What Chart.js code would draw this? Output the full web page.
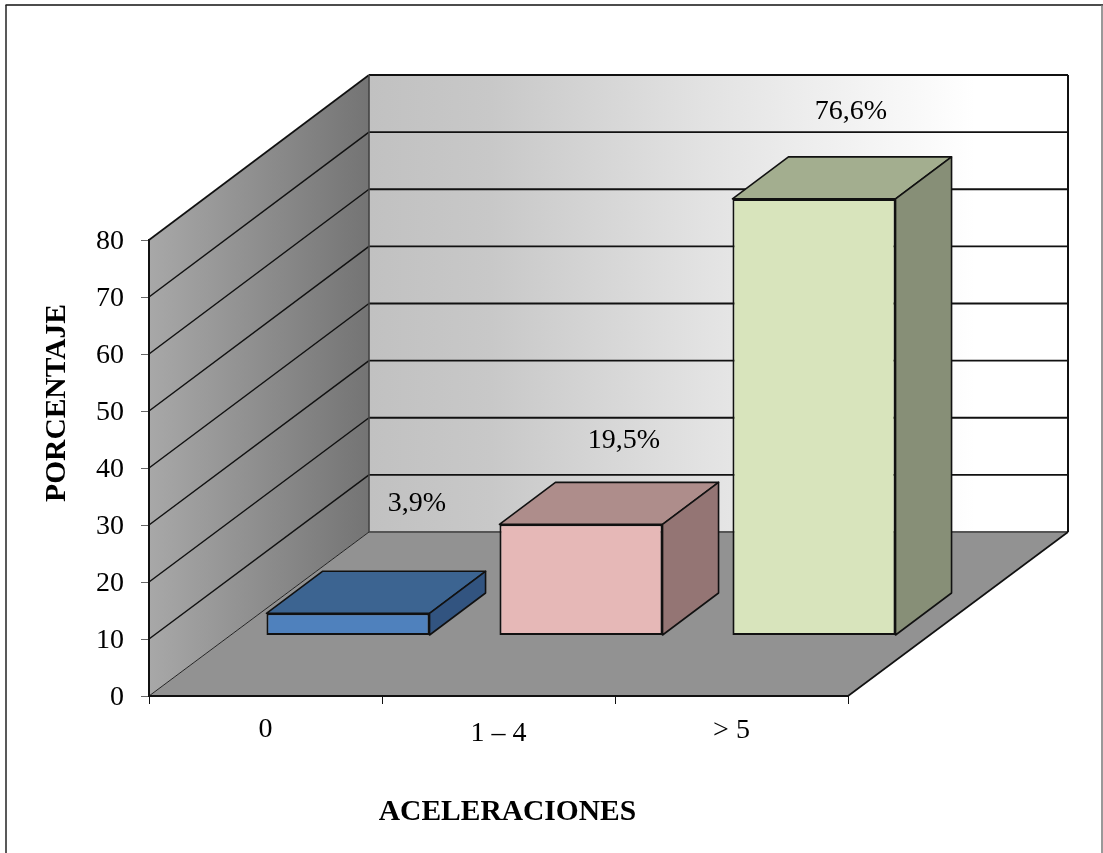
<!DOCTYPE html>
<html lang="es">
<head>
<meta charset="utf-8">
<title>Aceleraciones</title>
<style>
  html, body { margin: 0; padding: 0; background: #fff; }
  canvas { display: block; }
</style>
<script src="https://cdn.jsdelivr.net/npm/chart.js@4/dist/chart.umd.min.js"></script>
</head>
<body>
<canvas id="chart" width="1103" height="853"></canvas>
<script>
const categories = ['0', '1 – 4', '> 5'];
const percentages = [3.9, 19.5, 76.6];
const yTicks = [0, 10, 20, 30, 40, 50, 60, 70, 80];

const STYLE = {
  font: '"Liberation Serif", "Times New Roman", serif',
  front: ['#4F81BD', '#E6B8B7', '#D8E4BC'],
  top: ['#3C6491', '#AE8D8B', '#A3AE8F'],
  side: ['#325480', '#947574', '#878F77'],
  valueLabelOffset: [[69, -110], [43, -84], [37, -87]],
  categoryLabelDrop: [0, 4, 1],
  valueTickDrop: 2,
  wallDepth: { dx: 220, dy: -164, stretch: 1.0022 },
  barShift: { dx: 82.5, dy: -60.5 },
  barDepth: { dx: 56, dy: -42 }
};

function poly(ctx, pts, fill, stroke, width) {
  ctx.beginPath();
  pts.forEach((p, i) => (i ? ctx.lineTo(p[0], p[1]) : ctx.moveTo(p[0], p[1])));
  ctx.closePath();
  if (fill) { ctx.fillStyle = fill; ctx.fill(); }
  if (stroke) { ctx.strokeStyle = stroke; ctx.lineWidth = width; ctx.stroke(); }
}

function seg(ctx, x1, y1, x2, y2, color, width) {
  ctx.beginPath();
  ctx.moveTo(x1, y1);
  ctx.lineTo(x2, y2);
  ctx.strokeStyle = color;
  ctx.lineWidth = width;
  ctx.stroke();
}

// Page frame, back wall, side wall and floor of the 3D box, painted under the axes.
const boxPlugin = {
  id: 'box3d',

  // Fine vertical placement of the tick labels once the scales have laid them out.
  afterUpdate(chart) {
    chart.scales.x.getLabelItems().forEach((item, i) => {
      item.options.translation[1] += STYLE.categoryLabelDrop[i];
    });
    chart.scales.y.getLabelItems().forEach(item => {
      item.options.translation[1] += STYLE.valueTickDrop;
    });
  },

  beforeDraw(chart) {
    const { ctx, chartArea: a, scales: { y } } = chart;
    const { dx, dy, stretch } = STYLE.wallDepth;
    ctx.save();
    ctx.fillStyle = '#fff';
    ctx.fillRect(0, 0, chart.width, chart.height);

    seg(ctx, 5.5, 5, 1103, 5, '#111', 1.5);
    seg(ctx, 6, 5, 6, chart.height, '#222', 1.5);
    seg(ctx, 1102, 5, 1102, chart.height, '#777', 1.5);

    const y0 = y.getPixelForValue(0), yMax = y.getPixelForValue(80);
    const backY = py => y0 + dy - (y0 - py) * stretch;
    const backTop = backY(yMax), backBottom = y0 + dy;

    const wall = ctx.createLinearGradient(a.left + dx, 0, 975, 0);
    wall.addColorStop(0, '#C1C1C1');
    wall.addColorStop(0.2, '#C8C8C8');
    wall.addColorStop(0.55, '#E2E2E2');
    wall.addColorStop(1, '#FFFFFF');
    ctx.fillStyle = wall;
    ctx.fillRect(a.left + dx, backTop, a.right - a.left, backBottom - backTop);

    const side = ctx.createLinearGradient(a.left, 0, a.left + dx, 0);
    side.addColorStop(0, '#A8A8A8');
    side.addColorStop(1, '#747474');
    poly(ctx, [[a.left, y0], [a.left + dx, backBottom], [a.left + dx, backTop], [a.left, yMax]], side);

    poly(ctx, [[a.left, y0], [a.right, y0], [a.right + dx, backBottom], [a.left + dx, backBottom]], '#929292');

    yTicks.forEach(v => {
      if (v === 0) return;
      const py = y.getPixelForValue(v), by = backY(py);
      seg(ctx, a.left, py, a.left + dx, by, '#111', v === 80 ? 1.7 : 1.5);
      seg(ctx, a.left + dx, by, a.right + dx, by, '#111', v === 80 ? 2 : 1.8);
    });
    seg(ctx, a.left, y0, a.left + dx, backBottom, '#222', 1);
    seg(ctx, a.left + dx, backBottom, a.right + dx, backBottom, '#555', 2);
    seg(ctx, a.left + dx, backTop, a.left + dx, backBottom, '#444', 1.6);
    seg(ctx, a.right + dx, backTop, a.right + dx, backBottom, '#111', 2);
    seg(ctx, a.right, y0, a.right + dx, backBottom, '#111', 1.6);
    ctx.restore();
  },

  // The bars stand part way back on the floor, so their layer is shifted into depth.
  beforeDatasetsDraw(chart) {
    const { ctx } = chart;
    ctx.save();
    ctx.translate(STYLE.barShift.dx, STYLE.barShift.dy);
    const { dx, dy } = STYLE.barDepth;
    ctx.lineJoin = 'round';
    chart.getDatasetMeta(0).data.forEach((bar, i) => {
      const l = bar.x - bar.width / 2, r = bar.x + bar.width / 2;
      const t = bar.y, b = bar.base;
      poly(ctx, [[l, t], [r, t], [r + dx, t + dy], [l + dx, t + dy]], STYLE.top[i], '#111', 1.6);
      poly(ctx, [[r, t], [r + dx, t + dy], [r + dx, b + dy], [r, b]], STYLE.side[i], '#111', 1.6);
    });
  },

  afterDatasetsDraw(chart) {
    const { ctx } = chart;
    ctx.restore();
    ctx.save();
    ctx.fillStyle = '#000';
    ctx.textAlign = 'center';
    ctx.textBaseline = 'middle';
    ctx.font = '28px ' + STYLE.font;
    chart.getDatasetMeta(0).data.forEach((bar, i) => {
      const text = percentages[i].toFixed(1).replace('.', ',') + '%';
      const [ox, oy] = STYLE.valueLabelOffset[i];
      ctx.fillText(text, bar.x + STYLE.barShift.dx + ox, bar.y + STYLE.barShift.dy + oy);
    });

    ctx.font = 'bold 29.5px ' + STYLE.font;
    ctx.fillText('ACELERACIONES', 507.5, 812);
    ctx.translate(57, 403);
    ctx.rotate(-Math.PI / 2);
    ctx.fillText('PORCENTAJE', 0, 0);
    ctx.restore();
  }
};

new Chart(document.getElementById('chart'), {
  type: 'bar',
  data: {
    labels: categories,
    datasets: [{
      data: percentages,
      backgroundColor: STYLE.front,
      borderColor: '#111',
      borderWidth: 2,
      borderSkipped: false,
      barPercentage: 0.7,
      categoryPercentage: 1,
      clip: false
    }]
  },
  plugins: [boxPlugin],
  options: {
    responsive: false,
    animation: false,
    layout: { padding: { left: 0, top: 240, right: 255, bottom: 0 } },
    plugins: { legend: { display: false }, tooltip: { enabled: false } },
    scales: {
      x: {
        afterFit(scale) { scale.height = 157; },
        grid: { drawOnChartArea: false, drawTicks: true, tickLength: 8, tickColor: '#111', lineWidth: 1 },
        border: { display: true, color: '#111', width: 2 },
        ticks: {
          color: '#000',
          padding: 9,
          maxRotation: 0,
          font: { family: STYLE.font, size: 28 }
        }
      },
      y: {
        min: 0,
        max: 80,
        afterFit(scale) { scale.width = 149; },
        afterBuildTicks(scale) { scale.ticks = yTicks.map(value => ({ value })); },
        grid: { drawOnChartArea: false, drawTicks: true, tickLength: 8, tickColor: '#666', lineWidth: 1 },
        border: { display: true, color: '#111', width: 2 },
        ticks: {
          color: '#000',
          padding: 17,
          font: { family: STYLE.font, size: 28 }
        }
      }
    }
  }
});
</script>
</body>
</html>
